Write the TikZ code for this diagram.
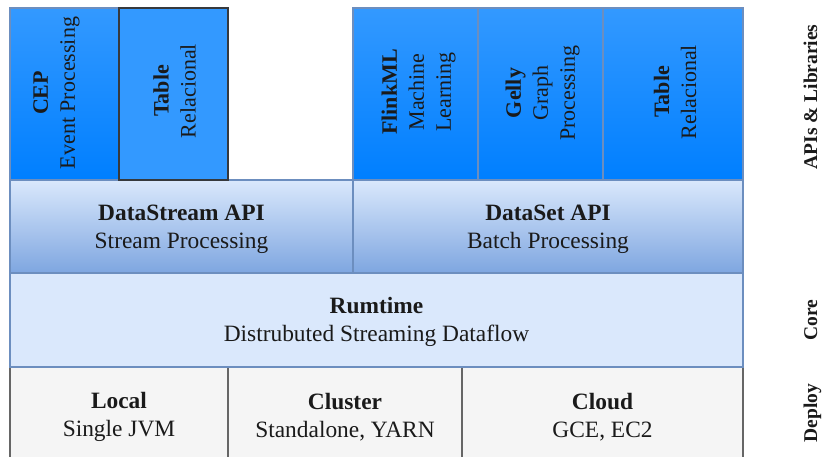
\documentclass[tikz,border=0pt]{standalone}
\usepackage{fontspec}
\setmainfont{Liberation Serif}
\definecolor{libtop}{HTML}{3399FF}
\definecolor{libbot}{HTML}{007FFF}
\definecolor{blueline}{HTML}{6C8EBF}
\definecolor{darkline}{HTML}{36393D}
\definecolor{apitop}{HTML}{DAE8FC}
\definecolor{apibot}{HTML}{7EA6E0}
\definecolor{corefill}{HTML}{DAE8FC}
\definecolor{depfill}{HTML}{F5F5F5}
\definecolor{depline}{HTML}{666666}
\definecolor{txt}{HTML}{1A1A1A}
\tikzset{
  box/.style={rectangle, inner sep=0pt, outer sep=0pt, line width=1.2pt},
  libbox/.style={box, draw=blueline, top color=libtop, bottom color=libbot},
  libflat/.style={box, draw=darkline, line width=1.6pt, fill=libtop},
  apibox/.style={box, draw=blueline, top color=apitop, bottom color=apibot},
  corebox/.style={box, draw=blueline, fill=corefill},
  depbox/.style={box, draw=depline, fill=depfill},
  label/.style={inner sep=0pt, align=center, text=txt, font=\fontsize{23.4}{28}\selectfont},
  vlabel/.style={inner sep=0pt, align=center, text=txt, rotate=90, font=\fontsize{22}{27}\selectfont},
  side/.style={inner sep=0pt, rotate=90, anchor=base, text=txt, font=\fontsize{19.5}{24}\selectfont\bfseries}
}
\begin{document}
\begin{tikzpicture}[x=1pt,y=-1pt]
\useasboundingbox (0,0) rectangle (823,457);
\begin{scope}
\clip (0,0) rectangle (823,457);
% Deploy row
\node[depbox, minimum width=218pt, minimum height=98pt] (local) at (119,416) {};
\node[depbox, minimum width=234pt, minimum height=98pt] (cluster) at (345,416) {};
\node[depbox, minimum width=281pt, minimum height=98pt] (cloud) at (602.5,416) {};
% Core row
\node[corebox, minimum width=733pt, minimum height=94pt] (runtime) at (376.5,320) {};
% API row
\node[apibox, minimum width=343pt, minimum height=93pt] (dstream) at (181.5,226.5) {};
\node[apibox, minimum width=390pt, minimum height=93pt] (dset) at (548,226.5) {};
% Libraries row
\node[libbox, minimum width=109pt, minimum height=172pt] (cep) at (64.5,94) {};
\node[libflat, minimum width=109pt, minimum height=172pt] (tabl) at (173.5,94) {};
\node[libbox, minimum width=125pt, minimum height=172pt] (flink) at (415.5,94) {};
\node[libbox, minimum width=125pt, minimum height=172pt] (gelly) at (540.5,94) {};
\node[libbox, minimum width=140pt, minimum height=172pt] (tabr) at (673,94) {};
\end{scope}
% Library texts
\node[vlabel] (cept) at (56.5,93) {\textbf{CEP}\\Event Processing};
\node[vlabel] (tablt) at (174.5,91) {\textbf{Table}\\Relacional};
\node[vlabel] (flinkt) at (418.5,92) {\textbf{FlinkML}\\Machine\\Learning};
\node[vlabel] (gellyt) at (542.5,93) {\textbf{Gelly}\\Graph\\Processing};
\node[vlabel] (tabrt) at (675,92) {\textbf{Table}\\Relacional};
% API texts
\node[label] (dstreamt) at (181.5,229.5) {\textbf{DataStream API}\\Stream Processing};
\node[label] (dsett) at (548,229.5) {\textbf{DataSet API}\\Batch Processing};
% Core text
\node[label] (runtimet) at (376.5,321.5) {\textbf{Rumtime}\\Distrubuted Streaming Dataflow};
% Deploy texts
\node[label] (localt) at (119,417) {\textbf{Local}\\Single JVM};
\node[label] (clustert) at (345,417) {\textbf{Cluster}\\Standalone, YARN};
\node[label] (cloudt) at (602.5,417) {\textbf{Cloud}\\GCE, EC2};
% Layer names
\node[side] (apis) at (817,97) {APIs \& Libraries};
\node[side] (core) at (817,320) {Core};
\node[side] (deploy) at (817,413) {Deploy};
\end{tikzpicture}
\end{document}
